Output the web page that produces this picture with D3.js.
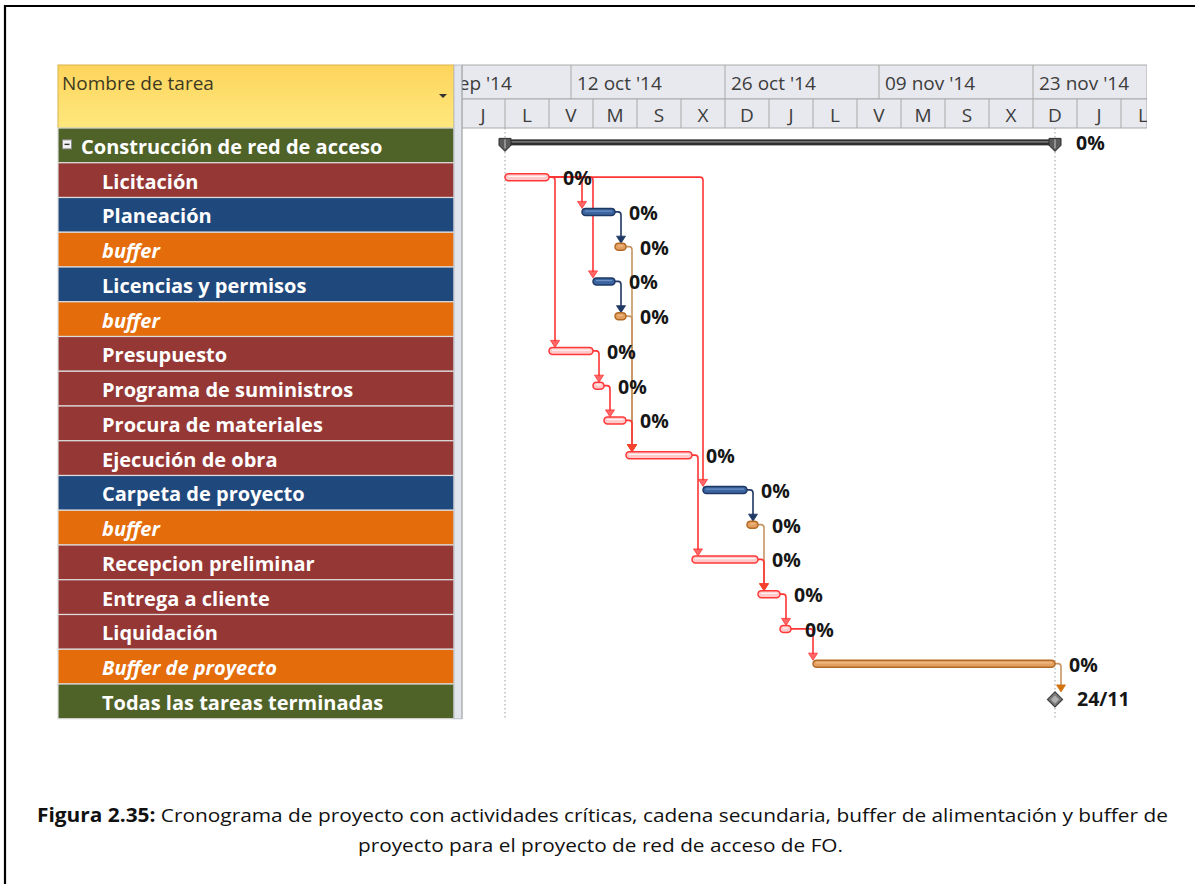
<!DOCTYPE html>
<html>
<head>
<meta charset="utf-8">
<script src="https://cdn.jsdelivr.net/npm/d3@7"></script>
<style>
  body { margin: 0; background: #fff; }
  svg { display: block; font-family: "Open Sans", sans-serif; }
</style>
</head>
<body>
<svg id="chart" width="1195" height="884"></svg>
<script>
// tasks, top to bottom
const taskNames = ["Construcción de red de acceso", "Licitación", "Planeación", "buffer", "Licencias y permisos", "buffer",
  "Presupuesto", "Programa de suministros", "Procura de materiales", "Ejecución de obra", "Carpeta de proyecto", "buffer",
  "Recepcion preliminar", "Entrega a cliente", "Liquidación", "Buffer de proyecto", "Todas las tareas terminadas"];
const taskTypes = ["summary", "critical", "chain", "buffer", "chain", "buffer", "critical", "critical", "critical", "critical",
  "chain", "buffer", "critical", "critical", "critical", "buffer", "milestone"];
const taskStarts = ["2014-10-06", "2014-10-06", "2014-10-13", "2014-10-16", "2014-10-14", "2014-10-16", "2014-10-10", "2014-10-14",
  "2014-10-15", "2014-10-17", "2014-10-24", "2014-10-28", "2014-10-23", "2014-10-29", "2014-10-31", "2014-11-03", "2014-11-25"];
const taskEnds = ["2014-11-25", "2014-10-10", "2014-10-16", "2014-10-17", "2014-10-16", "2014-10-17", "2014-10-14", "2014-10-15",
  "2014-10-17", "2014-10-23", "2014-10-28", "2014-10-29", "2014-10-29", "2014-10-31", "2014-11-01", "2014-11-25", "2014-11-25"];
const taskLabels = ["0%", "0%", "0%", "0%", "0%", "0%", "0%", "0%", "0%", "0%", "0%", "0%", "0%", "0%", "0%", "0%", "24/11"];

// dependencies (finish -> start), by task index
const linkFrom = [1, 1, 1, 1, 2, 4, 3, 5, 6, 7, 8, 9, 10, 11, 12, 13, 14, 15];
const linkTo   = [2, 4, 6, 10, 3, 5, 9, 9, 7, 8, 9, 12, 11, 13, 13, 14, 15, 16];

// timescale
const majorDates = ["2014-09-28", "2014-10-12", "2014-10-26", "2014-11-09", "2014-11-23"];
const majorLabels = ["28 sep '14", "12 oct '14", "26 oct '14", "09 nov '14", "23 nov '14"];
const dayLetters = ["J", "L", "V", "M", "S", "X", "D", "J", "L", "V", "M", "S", "X", "D", "J", "L"];
const viewStart = "2014-10-02", viewEnd = "2014-12-04";

const parse = d3.utcParse("%Y-%m-%d");
const rowFill = {summary: "#4f6228", milestone: "#4f6228", critical: "#953735", chain: "#1f497d", buffer: "#e46c0a"};
const linkColor = {critical: "#ff3535", chain: "#203864", buffer: "#c69463"};
const arrowColor = {critical: "#ff3535", chain: "#203864", buffer: "#d27310"};

const tasks = taskNames.map((name, i) => ({
  i, name, type: taskTypes[i], start: parse(taskStarts[i]), end: parse(taskEnds[i]), label: taskLabels[i]
}));

const svg = d3.select('#chart');
const panelL = 58, panelR = 454, chartL = 462, chartR = 1147;
const headTop = 65, headMid = 99, headBot = 128;

const x = d3.scaleUtc().domain([parse(viewStart), parse(viewEnd)]).range([461, 461 + 63 * 11]);
const y = d3.scaleBand().domain(d3.range(tasks.length)).range([headBot, headBot + 34.75 * tasks.length]);
const bw = y.bandwidth();
const barY = (i) => y(i) + bw / 2 - 3;
const rowsBot = y.range()[1];

// outer frame
svg.append('path').attr('d', 'M5,884V6H1195').attr('fill', 'none').attr('stroke', '#000').attr('stroke-width', 2.2);

// ---- left table
const hdrGrad = svg.append('defs').append('linearGradient').attr('id', 'hdr').attr('x1', 0).attr('x2', 0).attr('y1', 0).attr('y2', 1);
hdrGrad.append('stop').attr('offset', 0).attr('stop-color', '#fdd45c');
hdrGrad.append('stop').attr('offset', 1).attr('stop-color', '#fee87e');
svg.append('rect').attr('x', panelL).attr('y', headTop).attr('width', panelR - panelL).attr('height', headBot - headTop)
  .attr('fill', 'url(#hdr)').attr('stroke', '#d9b24a').attr('stroke-width', 1);
svg.append('text').attr('x', 62).attr('y', 90).attr('font-size', 19).attr('fill', '#3d3a22').text('Nombre de tarea');
svg.append('path').attr('d', 'M439,94h8l-4,4z').attr('fill', '#333');

const rows = svg.append('g');
rows.selectAll('rect').data(tasks).join('rect')
  .attr('x', panelL).attr('y', d => y(d.i)).attr('width', panelR - panelL).attr('height', bw)
  .attr('fill', d => rowFill[d.type]).attr('stroke', '#dcdcdc').attr('stroke-width', 1.2);
rows.selectAll('text').data(tasks).join('text')
  .attr('x', d => d.i === 0 ? 81 : 102).attr('y', d => y(d.i) + bw / 2 + 1)
  .attr('dominant-baseline', 'central').attr('font-size', 20).attr('font-weight', 700)
  .attr('font-style', d => d.type === 'buffer' ? 'italic' : 'normal')
  .attr('fill', '#fff').text(d => d.name);
// collapse box on the summary row
rows.append('rect').attr('x', 62.5).attr('y', y(0) + bw / 2 - 5.5).attr('width', 9).attr('height', 9)
  .attr('fill', '#f4f4f4').attr('stroke', '#8a8a8a');
rows.append('path').attr('d', `M64.5,${y(0) + bw / 2 - 1}h5`).attr('stroke', '#333').attr('stroke-width', 1.4);

// splitter
svg.append('rect').attr('x', panelR).attr('y', headTop).attr('width', chartL - panelR).attr('height', rowsBot - headTop)
  .attr('fill', '#e2e5ec').attr('stroke', '#b9bec8').attr('stroke-width', 1);

// ---- timescale header
svg.append('clipPath').attr('id', 'clip').append('rect')
  .attr('x', chartL).attr('y', 0).attr('width', chartR - chartL).attr('height', 884);
const head = svg.append('g').attr('clip-path', 'url(#clip)');
head.append('rect').attr('x', chartL).attr('y', headTop).attr('width', chartR - chartL).attr('height', headMid - headTop)
  .attr('fill', '#e8e9ee').attr('stroke', '#a9a9a9');
head.append('rect').attr('x', chartL).attr('y', headMid).attr('width', chartR - chartL).attr('height', headBot - headMid)
  .attr('fill', '#e8e9ee').attr('stroke', '#a9a9a9');

const majors = majorDates.map((d, i) => ({date: parse(d), label: majorLabels[i]}));
head.selectAll('.maj').data(majors).join('line').attr('class', 'maj')
  .attr('x1', d => x(d.date)).attr('x2', d => x(d.date)).attr('y1', headTop).attr('y2', headMid)
  .attr('stroke', '#a9a9a9');
head.selectAll('.majt').data(majors).join('text').attr('class', 'majt')
  .attr('x', d => x(d.date) + 6).attr('y', (headTop + headMid) / 2 + 1).attr('dominant-baseline', 'central')
  .attr('font-size', 19).attr('fill', '#3c3c3c').text(d => d.label);

const minors = d3.utcDay.range(parse(viewStart), parse(viewEnd), 4).map((d, i) => ({date: d, label: dayLetters[i]}))
  .filter(d => d.label);
head.selectAll('.min').data(minors).join('line').attr('class', 'min')
  .attr('x1', d => x(d.date)).attr('x2', d => x(d.date)).attr('y1', headMid).attr('y2', headBot)
  .attr('stroke', '#a9a9a9');
head.selectAll('.mint').data(minors).join('text').attr('class', 'mint')
  .attr('x', d => x(d3.utcDay.offset(d.date, 2))).attr('y', (headMid + headBot) / 2 + 1)
  .attr('dominant-baseline', 'central').attr('text-anchor', 'middle')
  .attr('font-size', 19).attr('fill', '#3c3c3c').text(d => d.label);

// ---- gantt body
const body = svg.append('g').attr('clip-path', 'url(#clip)');
const summary = tasks[0];
[summary.start, summary.end].forEach(d => {
  body.append('line').attr('x1', x(d)).attr('x2', x(d)).attr('y1', headBot).attr('y2', rowsBot)
    .attr('stroke', '#b4b4b4').attr('stroke-width', 1.3).attr('stroke-dasharray', '1.5,2.5');
});

// links, drawn buffer first, critical last
const links = linkFrom.map((f, k) => ({from: tasks[f], to: tasks[linkTo[k]]}));
const order = {buffer: 0, chain: 1, critical: 2};
links.sort((a, b) => order[a.from.type] - order[b.from.type]);
const topOf = (t) => t.type === 'milestone' ? barY(t.i) + 1 - 7.5 : barY(t.i) - 3.5;
links.forEach(l => {
  const x0 = x(l.from.end), y0 = barY(l.from.i);
  const vx = Math.max(x(l.to.start), x0 + 6);
  const tip = topOf(l.to);
  body.append('path')
    .attr('d', `M${x0},${y0}H${vx - 3}Q${vx},${y0} ${vx},${y0 + 3}V${tip - 6}`)
    .attr('fill', 'none').attr('stroke', linkColor[l.from.type]).attr('stroke-width', 1.6);
  body.append('path').attr('d', `M${vx - 4.5},${tip - 7}H${vx + 4.5}L${vx},${tip}Z`)
    .attr('fill', arrowColor[l.from.type]).attr('stroke', arrowColor[l.from.type]).attr('stroke-width', 0.8)
    .attr('fill-opacity', l.from.type === 'critical' ? 0.75 : 1);
});

// bars
const barStyle = {
  critical: {fill: '#ffc9c9', stroke: '#ff3838', hl: '#fff'},
  chain: {fill: '#3b65a1', stroke: '#1f3864', hl: '#7d9dd0'},
  buffer: {fill: '#e3a060', stroke: '#b26a27', hl: '#f3c597'}
};
tasks.filter(t => barStyle[t.type]).forEach(t => {
  const s = barStyle[t.type], x0 = x(t.start), x1 = x(t.end), cy = barY(t.i);
  body.append('rect').attr('x', x0).attr('y', cy - 3.5).attr('width', x1 - x0).attr('height', 7)
    .attr('rx', 3.5).attr('fill', s.fill).attr('stroke', s.stroke).attr('stroke-width', 1.5);
  body.append('line').attr('x1', x0 + 3).attr('x2', x1 - 3).attr('y1', cy - 0.8).attr('y2', cy - 0.8)
    .attr('stroke', s.hl).attr('stroke-width', 1.2).attr('opacity', 0.8);
});

// summary bar with end caps
{
  const x0 = x(summary.start), x1 = x(summary.end), cy = barY(0);
  const sg = body.append('g');
  sg.append('rect').attr('x', x0).attr('y', cy - 3).attr('width', x1 - x0).attr('height', 6).attr('fill', '#2e2e2e');
  sg.append('line').attr('x1', x0).attr('x2', x1).attr('y1', cy - 0.5).attr('y2', cy - 0.5)
    .attr('stroke', '#8c8c8c').attr('stroke-width', 1.3);
  [x0, x1].forEach(cx => {
    sg.append('path').attr('d', `M${cx - 6},${cy - 4}H${cx + 6}V${cy + 3}L${cx},${cy + 9}L${cx - 6},${cy + 3}Z`)
      .attr('fill', '#5a5a5a').attr('stroke', '#2a2a2a').attr('stroke-width', 1);
    sg.append('line').attr('x1', cx).attr('x2', cx).attr('y1', cy - 3).attr('y2', cy + 6)
      .attr('stroke', '#c8c8c8').attr('stroke-width', 1);
  });
}

// milestone
{
  const m = tasks[16], cx = x(m.start), cy = barY(16) + 1;
  body.append('path').attr('d', `M${cx},${cy - 7.5}L${cx + 7.5},${cy}L${cx},${cy + 7.5}L${cx - 7.5},${cy}Z`)
    .attr('fill', '#7c7c7c').attr('stroke', '#3c3c3c').attr('stroke-width', 1.2);
  body.append('path').attr('d', `M${cx},${cy - 4}L${cx + 4},${cy}L${cx},${cy + 4}L${cx - 4},${cy}Z`)
    .attr('fill', '#b0b0b0');
}

// bar labels
body.selectAll('.lbl').data(tasks).join('text').attr('class', 'lbl')
  .attr('x', t => x(t.end) + (t.type === 'summary' ? 21 : t.type === 'milestone' ? 22 : 14))
  .attr('y', t => barY(t.i) + 0.5).attr('dominant-baseline', 'central')
  .attr('font-size', 19.5).attr('font-weight', 700).attr('fill', '#161616').text(t => t.label);

// left border of the chart area
svg.append('line').attr('x1', chartL).attr('x2', chartL).attr('y1', headTop).attr('y2', rowsBot).attr('stroke', '#a9a9a9');

// ---- caption
const cap1 = svg.append('text').attr('x', 602.5).attr('y', 822).attr('text-anchor', 'middle')
  .attr('font-size', 19).attr('fill', '#111').attr('textLength', 1131).attr('lengthAdjust', 'spacingAndGlyphs');
cap1.append('tspan').attr('font-weight', 700).text('Figura 2.35:');
cap1.append('tspan').text(' Cronograma de proyecto con actividades críticas, cadena secundaria, buffer de alimentación y buffer de');
svg.append('text').attr('x', 600.5).attr('y', 852).attr('text-anchor', 'middle')
  .attr('font-size', 19).attr('fill', '#111').attr('textLength', 485).attr('lengthAdjust', 'spacingAndGlyphs')
  .text('proyecto para el proyecto de red de acceso de FO.');
</script>
</body>
</html>
